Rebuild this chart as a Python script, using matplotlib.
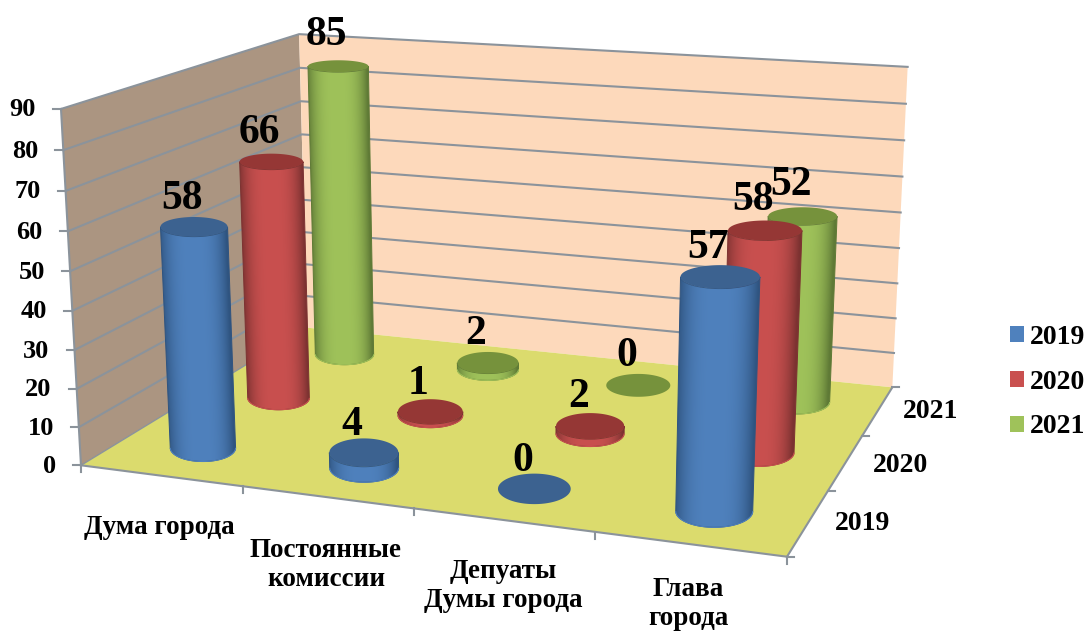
import numpy as np
import matplotlib
matplotlib.use("Agg")
import matplotlib.pyplot as plt
from matplotlib.patches import Patch, Polygon

# Data
categories = ["Дума города", "Постоянные\nкомиссии", "Депуаты\nДумы города", "Глава\nгорода"]
series_names = ["2019", "2020", "2021"]
values_2019 = [58, 4, 0, 57]
values_2020 = [66, 1, 2, 58]
values_2021 = [85, 2, 0, 52]
value_ticks = [0, 10, 20, 30, 40, 50, 60, 70, 80, 90]

W, H = 1088, 632
VMAX = 90.0
plt.rcParams["font.family"] = ["Liberation Serif", "DejaVu Serif"]
plt.rcParams["font.weight"] = "bold"

# Camera: fit a 3x4 projection from where the box corners sit on the canvas
box = np.array([(0, 0, 0), (1, 0, 0), (1, 1, 0), (0, 1, 0), (0, 0, 1), (0, 1, 1), (1, 1, 1)], float)
canvas = np.array([(80, 465), (787, 557), (892, 387), (308, 328), (62, 109), (298, 34), (908, 67)], float)
rows = []
for (a, b, c), (x, y) in zip(box, canvas):
    rows.append([a, b, c, 1, 0, 0, 0, 0, -x * a, -x * b, -x * c, -x])
    rows.append([0, 0, 0, 0, a, b, c, 1, -y * a, -y * b, -y * c, -y])
P = np.linalg.svd(np.array(rows))[2][-1].reshape(3, 4)


def project(u, v, w):
    u, v, w = np.broadcast_arrays(u, v, w)
    q = P @ np.stack([u, v, w, np.ones_like(u)], dtype=float).reshape(4, -1)
    return (q[0] / q[2]).reshape(u.shape), (q[1] / q[2]).reshape(u.shape)


def pts(u, v, w):
    x, y = project(u, v, w)
    return np.column_stack([np.ravel(x), np.ravel(y)])


fig = plt.figure(figsize=(W / 100, H / 100), dpi=100)
ax = fig.add_axes([0, 0, 1, 1])

GRID = "#8b939b"

# Walls and floor
ax.add_patch(Polygon(pts([0, 0, 0, 0], [0, 1, 1, 0], [0, 0, 1, 1]), fc="#ab9581", ec="none", zorder=1))
ax.add_patch(Polygon(pts([0, 1, 1, 0], [1, 1, 1, 1], [0, 0, 1, 1]), fc="#fdd9bb", ec="none", zorder=1))
ax.add_patch(Polygon(pts([0, 1, 1, 0], [0, 0, 1, 1], [0, 0, 0, 0]), fc="#dbdb6d", ec="none", zorder=2))

# Gridlines along both walls
for t in value_ticks:
    w = t / VMAX
    line = pts([0, 0, 1], [0, 1, 1], [w, w, w])
    if t > 0:
        ax.plot(line[:, 0], line[:, 1], color=GRID, lw=1.5, zorder=1.5)
    x0, y0 = line[0]
    ax.plot([x0 - 8, x0], [y0, y0], color=GRID, lw=1.5, zorder=3)
    ax.text(x0 - 25, y0 + 1, str(t), ha="right", va="center", fontsize=19, zorder=6)

# Box edges
edge = pts([0, 0], [0, 0], [0, 1])
ax.plot(edge[:, 0], edge[:, 1], color=GRID, lw=1.5, zorder=3)
edge = pts([0, 1], [0, 0], [0, 0])
ax.plot(edge[:, 0], edge[:, 1], color=GRID, lw=1.5, zorder=3)
edge = pts([1, 1], [0, 1], [0, 0])
ax.plot(edge[:, 0], edge[:, 1], color=GRID, lw=1.5, zorder=3)
edge = pts([0, 0], [0, 1], [0, 0])
ax.plot(edge[:, 0], edge[:, 1], color=GRID, lw=1, zorder=3)

# Axis ticks on the floor edges
n_cat = len(categories)
n_ser = len(series_names)
for i in range(n_cat + 1):
    x0, y0 = pts([i / n_cat], [0], [0])[0]
    ax.plot([x0, x0], [y0, y0 + 7], color=GRID, lw=1.5, zorder=3)
for j in range(n_ser + 1):
    x0, y0 = pts([1], [j / n_ser], [0])[0]
    ax.plot([x0, x0 + 7], [y0, y0], color=GRID, lw=1.5, zorder=3)

cat_label_pos = [(159, 527), (326, 565), (503, 586), (688, 604)]
for name, (x, y) in zip(categories, cat_label_pos):
    ax.text(x, y, name, ha="center", va="center", fontsize=19.5, linespacing=1.2, zorder=6)
ser_label_pos = [(863, 524), (900, 465), (931, 412)]
for name, (x, y) in zip(series_names, ser_label_pos):
    ax.text(x, y, name, ha="center", va="center", fontsize=20, zorder=6)

RU, RV = 0.052, 0.085
colors = [("#4f81bd", "#2f5480", "#3c6290"),
          ("#c9504f", "#7c3231", "#953735"),
          ("#9fc25a", "#5f7a36", "#76923c")]


def ring(u, v, w, th):
    # Ellipses stay level on screen, sized by the perspective at that spot
    cx, cy = pts([u], [v], [w])[0]
    rx = abs(pts([u + RU], [v], [w])[0][0] - pts([u - RU], [v], [w])[0][0]) / 2
    ry = abs(pts([u], [v + RV], [w])[0][1] - pts([u], [v - RV], [w])[0][1]) / 2
    return np.column_stack([cx + rx * np.cos(th), cy + ry * np.sin(th)])


def cylinder(u, v, w, base, dark, top, z):
    th = np.linspace(0, np.pi, 91)
    full = np.linspace(0, 2 * np.pi, 181)
    if w > 0:
        low = ring(u, v, 0, th)
        high = ring(u, v, w, th)
        base_rgb = np.array(matplotlib.colors.to_rgb(base))
        dark_rgb = np.array(matplotlib.colors.to_rgb(dark))

        # Side shading as a small image, clipped to the outline of the side
        outline = np.vstack([high, low[::-1]])
        x0, x1 = outline[:, 0].min() - 1, outline[:, 0].max() + 1
        y0, y1 = outline[:, 1].min() - 1, outline[:, 1].max() + 1
        gx, gy = np.meshgrid(np.linspace(x0, x1, int((x1 - x0) * 3)),
                             np.linspace(y0, y1, max(int((y1 - y0) * 2), 4)))
        f = (gy - low[0, 1]) / (high[0, 1] - low[0, 1])
        right = low[0, 0] + f * (high[0, 0] - low[0, 0])
        left = low[-1, 0] + f * (high[-1, 0] - low[-1, 0])
        t = np.clip((2 * gx - left - right) / (right - left), -1, 1)
        s = np.clip(1 - np.abs(t + 0.05) ** 3, 0, 1)
        img = dark_rgb + (base_rgb - dark_rgb) * s[:, :, None]
        im = ax.imshow(img, extent=(x0, x1, y1, y0), origin="upper", aspect="auto",
                       interpolation="bilinear", zorder=z)
        im.set_clip_path(Polygon(outline, transform=ax.transData))

        # Thin outline smooths the clipped edge
        ax.add_patch(Polygon(outline, closed=True, fill=False, ec=dark, lw=0.7, zorder=z + 0.02))
        ax.add_patch(Polygon(low, closed=False, fill=False, ec=base, lw=0.8, zorder=z + 0.05))
    cap = ring(u, v, w, full)
    ax.add_patch(Polygon(cap, fc=top, ec="none", zorder=z + 0.1))
    return cap[:, 0].mean(), cap[:, 1].min()


# Back row first, so nearer cylinders cover it
all_values = [values_2019, values_2020, values_2021]
for j in range(n_ser - 1, -1, -1):
    v = (j + 0.5) / n_ser
    for i in range(n_cat):
        u = (i + 0.5) / n_cat
        value = all_values[j][i]
        z = 4 + (n_ser - j) + i * 0.2
        xc, ytop = cylinder(u, v, value / VMAX, *colors[j], z)
        gap = 3 + 2.5 * j + 0.08 * value
        ax.text(xc - 12, ytop - gap, str(value), ha="center", va="baseline", fontsize=30,
                zorder=9, color="black")

# Legend
handles = [Patch(fc=c[0], ec="none") for c in colors]
ax.legend(handles, series_names, loc="upper left", bbox_to_anchor=(1010 / W, 1 - 325 / H),
          frameon=False, fontsize=20, handlelength=0.5, handleheight=0.5, handletextpad=0.2,
          labelspacing=0.71, borderpad=0, borderaxespad=0)

ax.set_xlim(0, W)
ax.set_ylim(H, 0)
ax.axis("off")

fig.savefig("out.png", dpi=100)
